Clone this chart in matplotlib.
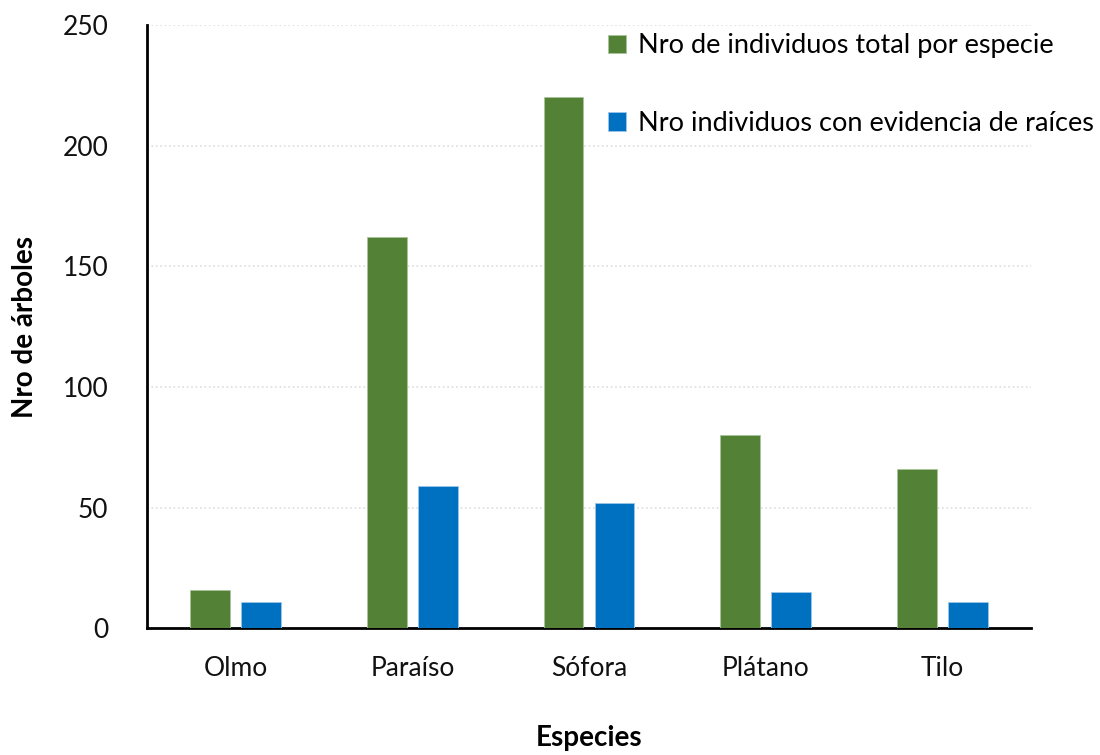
import numpy as np
import matplotlib.pyplot as plt

plt.rcParams['font.family'] = ['Lato', 'DejaVu Sans']

especies = ['Olmo', 'Paraíso', 'Sófora', 'Plátano', 'Tilo']
total = [16, 162, 220, 80, 66]
con_raices = [11, 59, 52, 15, 11]

verde = '#538135'
azul = '#0070C0'

x = np.arange(len(especies))
w = 0.225
off = 0.144

fig = plt.figure(figsize=(11, 7.55), dpi=100)
ax = fig.add_axes([0.134, 0.168, 0.803, 0.799])

ax.bar(x - off, total, w, color=verde, edgecolor='#a8c49a', linewidth=0.6,
       label='Nro de individuos total por especie', zorder=3)
ax.bar(x + off, con_raices, w, color=azul, edgecolor='#9cc6e8', linewidth=0.6,
       label='Nro individuos con evidencia de raíces', zorder=3)

ax.set_xlim(-0.5, len(especies) - 0.5)
ax.set_ylim(0, 250)
ax.set_yticks(np.arange(0, 251, 50))
ax.set_xticks(x)
ax.set_xticklabels(especies)
ax.tick_params(length=0, labelsize=19, colors='#111111')
ax.tick_params(axis='x', pad=20)
ax.tick_params(axis='y', pad=28)

ax.grid(axis='y', color='#dddddd', linestyle=':', linewidth=1.2, zorder=0)
for s in ['top', 'right']:
    ax.spines[s].set_visible(False)
for s in ['left', 'bottom']:
    ax.spines[s].set_linewidth(2)
    ax.spines[s].set_color('black')

ax.set_ylabel('Nro de árboles', fontsize=20, fontweight='bold', labelpad=18)
ax.set_xlabel('Especies', fontsize=20, fontweight='bold', labelpad=32)

leg = fig.legend(loc='upper left', bbox_to_anchor=(0.553, 0.956), frameon=False,
                 fontsize=19.5, labelspacing=1.95, handlelength=0.65,
                 handleheight=0.65, handletextpad=0.45,
                 borderpad=0, borderaxespad=0)

fig.savefig('out.png', dpi=100, facecolor='white')
